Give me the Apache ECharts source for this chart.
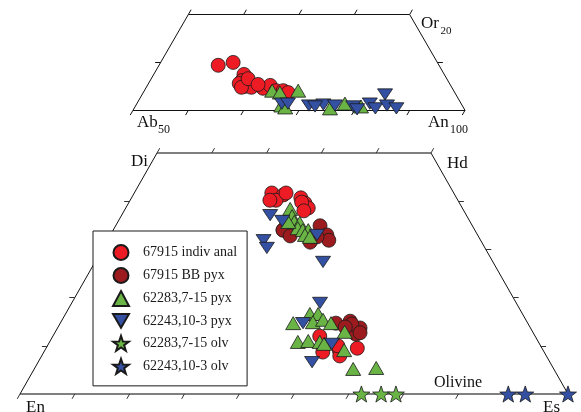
<!DOCTYPE html>
<html>
<head>
<meta charset="utf-8">
<script src="https://cdn.jsdelivr.net/npm/echarts@6/dist/echarts.min.js"></script>
<style>
html,body{margin:0;padding:0;background:#fff;}
#chart{width:581px;height:412px;}
</style>
</head>
<body>
<div id="chart"></div>
<script>
// ---------- Data ----------
// Feldspar diagram: [An %, Or %]
const fspIndiv = [[50.7,9.4],[53.1,10.0],[56.3,7.5],[56.6,6.2],[56.4,5.6],[57.8,5.0],[59.0,4.8],[57.2,4.8],[57.5,6.6],[61.2,4.6],[62.2,5.2],[63.8,4.1],[65.1,4.1],[66.2,3.7],[59.9,5.4]];
const fsp62283 = [[63.1,4.1],[64.7,3.7],[67.8,4.1],[66.3,1.0],[75.4,0.4],[77.6,1.4],[80.8,0.8],[67.2,0.6]];
const fsp62243 = [[66.2,1.4],[67.3,1.4],[71.3,1.0],[73.8,1.2],[76.0,1.0],[79.4,0.8],[80.4,0.2],[82.1,1.4],[83.6,0.4],[83.9,3.3],[85.4,1.0],[87.4,0.4],[72.5,0.8]];
// Pyroxene quadrilateral: [Fs %, Wo %]
const pxIndiv = [[25.1,41.7],[27.4,41.3],[26.6,40.2],[27.7,41.7],[30.9,40.7],[32.2,39.6],[33.3,38.6],[31.5,39.8],[32.8,38.0],[31.2,34.6],[31.0,34.0],[25.5,40.2],
  [48.7,12.0],[50.9,8.7],[53.7,9.1],[56.8,9.5],[54.4,7.9],[53.0,10.0]];
const pxBB = [[37.3,34.9],[39.5,33.0],[40.4,31.9],[37.2,31.5],[37.9,32.6],[31.0,34.0],[32.9,32.8],
  [52.7,15.1],[55.2,13.7],[55.1,12.4],[53.3,14.5],[50.3,14.7],[55.7,12.7],[52.4,13.9]];
const px62283 = [[30.1,38.4],[31.2,36.9],[32.2,35.7],[33.3,35.5],[33.5,34.4],[34.6,34.0],[35.6,34.0],[35.5,33.0],[36.6,32.6],[31.1,35.7],
  [42.5,14.7],[44.6,16.6],[46.1,16.6],[46.0,14.9],[47.6,15.4],[49.4,14.7],[45.3,10.8],[47.1,11.0],[49.3,10.8],[50.3,10.4],[52.8,12.9],[54.6,9.1],[58.2,5.2],[62.3,5.4]];
const px62243 = [[27.1,37.1],[29.9,35.9],[28.5,31.9],[29.9,30.3],[37.7,33.0],[41.6,27.4],
  [45.3,18.9],[44.3,14.7],[51.7,10.4],[50.0,6.6]];
// Olivine: [Fa %, 0]
const olv62283 = [[62.3,0],[65.9,0],[68.6,0]];
const olv62243 = [[89.1,0],[92.2,0],[100,0]];
// Diagram frames (compositions) and ticks
const fspFrame = [[40,0],[100,0],[80,20],[40,20]];
const pxFrame = [[0,0],[100,0],[50,50],[0,50]];
const fspBaseTicks = [40,50,60,70,80,90,100];
const fspTopTicks = [40,50,60,70,80];
const fspSideTicks = [10];
const pxBaseTicks = [0,10,20,30,40,50,60,70,80,90,100];
const pxTopTicks = [0,10,20,30,40,50];
const pxSideTicks = [10,20,30,40];
const seriesNames = ['67915 indiv anal','67915 BB pyx','62283,7-15 pyx','62243,10-3 pyx','62283,7-15 olv','62243,10-3 olv'];

// ---------- Helpers ----------
// ternary composition -> oblique cartesian (horizontal = base% + apex%/2, vertical = apex%)
function tern(p){ return [p[0] + p[1]/2, p[1]]; }
function seg(a,b){ return {coords:[tern(a), tern(b)]}; }

const fspFrameSegs = fspFrame.map((p,i)=>seg(p, fspFrame[(i+1)%fspFrame.length]));
const fspTickSegs = [].concat(
  fspBaseTicks.map(a=>seg([a,0],[a,-1])),
  fspTopTicks.map(a=>seg([a,20],[a,21])),
  fspSideTicks.map(o=>seg([40,o],[39,o])),
  fspSideTicks.map(o=>seg([100-o,o],[101-o,o]))
);
const pxHorizSegs = [seg(pxFrame[0],pxFrame[1]), seg(pxFrame[2],pxFrame[3])];
const pxSideSegs = [seg(pxFrame[1],pxFrame[2]), seg(pxFrame[3],pxFrame[0])];
const pxTickSegs = [].concat(
  pxBaseTicks.map(f=>seg([f,0],[f,-1])),
  pxTopTicks.map(f=>seg([f,50],[f,51])),
  pxSideTicks.map(w=>seg([0,w],[-1,w])),
  pxSideTicks.map(w=>seg([100-w,w],[101-w,w]))
);

const STAR = 'path://M0,-10L2.35,-3.24L9.51,-3.09L3.8,1.24L5.88,8.09L0,4L-5.88,8.09L-3.8,1.24L-9.51,-3.09L-2.35,-3.24Z';
const DOWN = 'path://M-7.5,0L7.5,0L0,13Z';
const C = {red:'#ed1c24', dred:'#9b1b1e', green:'#6ab446', blue:'#3350a2'};
const border = {borderColor:'#1a1a1a', borderWidth:0.8};

function scat(name, data, grid, color, symbol, size){
  return {
    type:'scatter', name:name, xAxisIndex:grid, yAxisIndex:grid,
    data:data.map(tern), symbol:symbol, symbolSize:size,
    symbolKeepAspect:true, clip:false,
    itemStyle:Object.assign({color:color, opacity:1}, border),
    emphasis:{disabled:true}
  };
}
function lineSet(data, grid, color, width){
  return {type:'lines', coordinateSystem:'cartesian2d', xAxisIndex:grid, yAxisIndex:grid,
    data:data, silent:true, clip:false, z:1,
    lineStyle:{color:color, width:width, opacity:1}};
}

const chart = echarts.init(document.getElementById('chart'), null, {renderer:'canvas'});
const serif = '"Liberation Serif","Times New Roman",serif';
function txt(t, x, y, size){
  return {type:'text', x:x, y:y, style:{text:t, font:size+'px '+serif, fill:'#111', verticalAlign:'middle', align:'left'}};
}

chart.setOption({
  animation:false,
  backgroundColor:'#fff',
  grid:[
    {left:133, top:14.5, width:332, height:95.8},
    {left:20, top:153, width:548, height:241}
  ],
  xAxis:[
    {type:'value', gridIndex:0, min:40, max:100, show:false},
    {type:'value', gridIndex:1, min:0, max:100, show:false}
  ],
  yAxis:[
    {type:'value', gridIndex:0, min:0, max:20, show:false},
    {type:'value', gridIndex:1, min:0, max:50, show:false}
  ],
  legend:{
    data:seriesNames, orient:'vertical', left:93, top:231,
    padding:[13,10,11,19], itemGap:6, itemWidth:16, itemHeight:15,
    backgroundColor:'#fff', borderColor:'#1a1a1a', borderWidth:1,
    formatter:function(n){ return '{s|}' + n; },
    textStyle:{fontFamily:serif, fontSize:14, color:'#1a1a1a',
      rich:{s:{width:9, fontSize:14, fontFamily:serif}}},
    selectedMode:false
  },
  graphic:[
    txt('Or',421,23.5,17), txt('20',440.5,31,11),
    txt('Ab',137,122.5,17), txt('50',158,129.5,12),
    txt('An',428,122.5,17), txt('100',450,129.5,12),
    txt('Di',131,161.5,17), txt('Hd',447,163.5,17),
    txt('En',26,407.5,17), txt('Es',543,407.5,17),
    txt('Olivine',434,383,16)
  ],
  series:[
    lineSet(fspFrameSegs,0,'#111',1),
    lineSet(fspTickSegs,0,'#111',1),
    lineSet(pxHorizSegs,1,'#555',1.5),
    lineSet(pxSideSegs,1,'#111',1),
    lineSet(pxTickSegs,1,'#333',1),
    scat(seriesNames[0], pxIndiv, 1, C.red, 'circle', 14),
    scat(seriesNames[1], pxBB, 1, C.dred, 'circle', 14),
    scat(seriesNames[2], px62283, 1, C.green, 'triangle', [15,13]),
    scat(seriesNames[3], px62243, 1, C.blue, DOWN, [15,13]),
    scat(seriesNames[4], olv62283, 1, C.green, STAR, 17),
    scat(seriesNames[5], olv62243, 1, C.blue, STAR, 17),
    scat(seriesNames[0], fspIndiv, 0, C.red, 'circle', 14),
    scat(seriesNames[2], fsp62283, 0, C.green, 'triangle', [15,13]),
    scat(seriesNames[3], fsp62243, 0, C.blue, DOWN, [15,13])
  ]
});
</script>
</body>
</html>
